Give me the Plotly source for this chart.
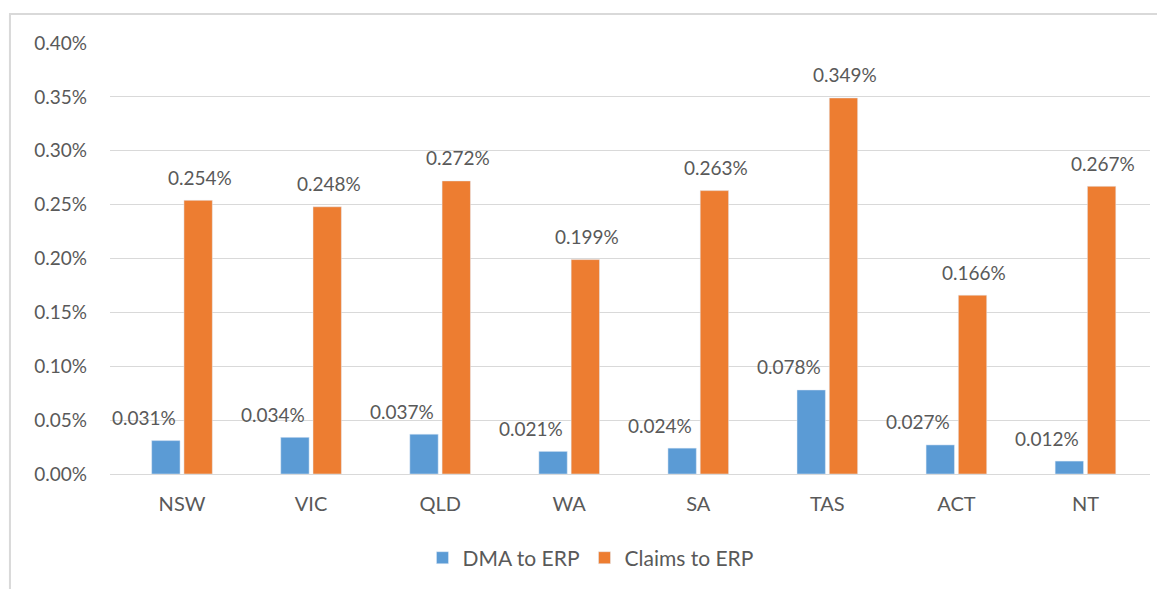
import plotly.graph_objects as go

states = ["NSW", "VIC", "QLD", "WA", "SA", "TAS", "ACT", "NT"]
dma_to_erp = [0.031, 0.034, 0.037, 0.021, 0.024, 0.078, 0.027, 0.012]
claims_to_erp = [0.254, 0.248, 0.272, 0.199, 0.263, 0.349, 0.166, 0.267]
y_ticks = [0.00, 0.05, 0.10, 0.15, 0.20, 0.25, 0.30, 0.35, 0.40]
y_tick_labels = [f"{v:.2f}%" for v in y_ticks]

BLUE = "#5B9BD5"
ORANGE = "#ED7D31"
GREY = "#595959"
FONT = "Lato"

fig = go.Figure()
fig.add_bar(x=states, y=dma_to_erp, name="DMA to ERP", marker_color=BLUE, hoverinfo="skip")
fig.add_bar(x=states, y=claims_to_erp, name="Claims to ERP", marker_color=ORANGE, hoverinfo="skip")

annotations = []
for s, v in zip(states, dma_to_erp):
    annotations.append(dict(x=s, y=v, xref="x", yref="y", text=f"{v:.3f}%", showarrow=False,
                            xshift=-38, yshift=23, yanchor="middle",
                            font=dict(family=FONT, size=19, color=GREY)))
for s, v in zip(states, claims_to_erp):
    annotations.append(dict(x=s, y=v, xref="x", yref="y", text=f"{v:.3f}%", showarrow=False,
                            xshift=18, yshift=23, yanchor="middle",
                            font=dict(family=FONT, size=19, color=GREY)))

fig.update_layout(
    width=1165, height=589,
    margin=dict(l=102, r=23, t=35, b=123),
    paper_bgcolor="white", plot_bgcolor="white",
    barmode="group", bargap=0.5, bargroupgap=0.12,
    font=dict(family=FONT, size=19, color=GREY),
    showlegend=True,
    legend=dict(orientation="h", x=0.462, xanchor="center", y=-0.195, yanchor="middle",
                font=dict(family=FONT, size=21, color=GREY), itemwidth=30, traceorder="normal"),
    annotations=annotations,
    shapes=[dict(type="rect", xref="paper", yref="paper", x0=-0.0962, x1=1.2, y0=-1.0, y1=1.067,
                 line=dict(color="#D9D9D9", width=2), layer="below")],
)
fig.update_xaxes(showgrid=False, showline=True, linecolor="#D9D9D9", linewidth=1,
                 ticks="", tickfont=dict(family=FONT, size=20, color=GREY), ticklabelstandoff=12)
fig.update_yaxes(range=[0, 0.4], tickvals=y_ticks, ticktext=y_tick_labels,
                 showgrid=True, gridcolor="#D9D9D9", gridwidth=1, zeroline=False,
                 showline=False, ticks="", tickfont=dict(family=FONT, size=19, color=GREY),
                 ticklabelstandoff=22)

fig.write_html("out.html")
